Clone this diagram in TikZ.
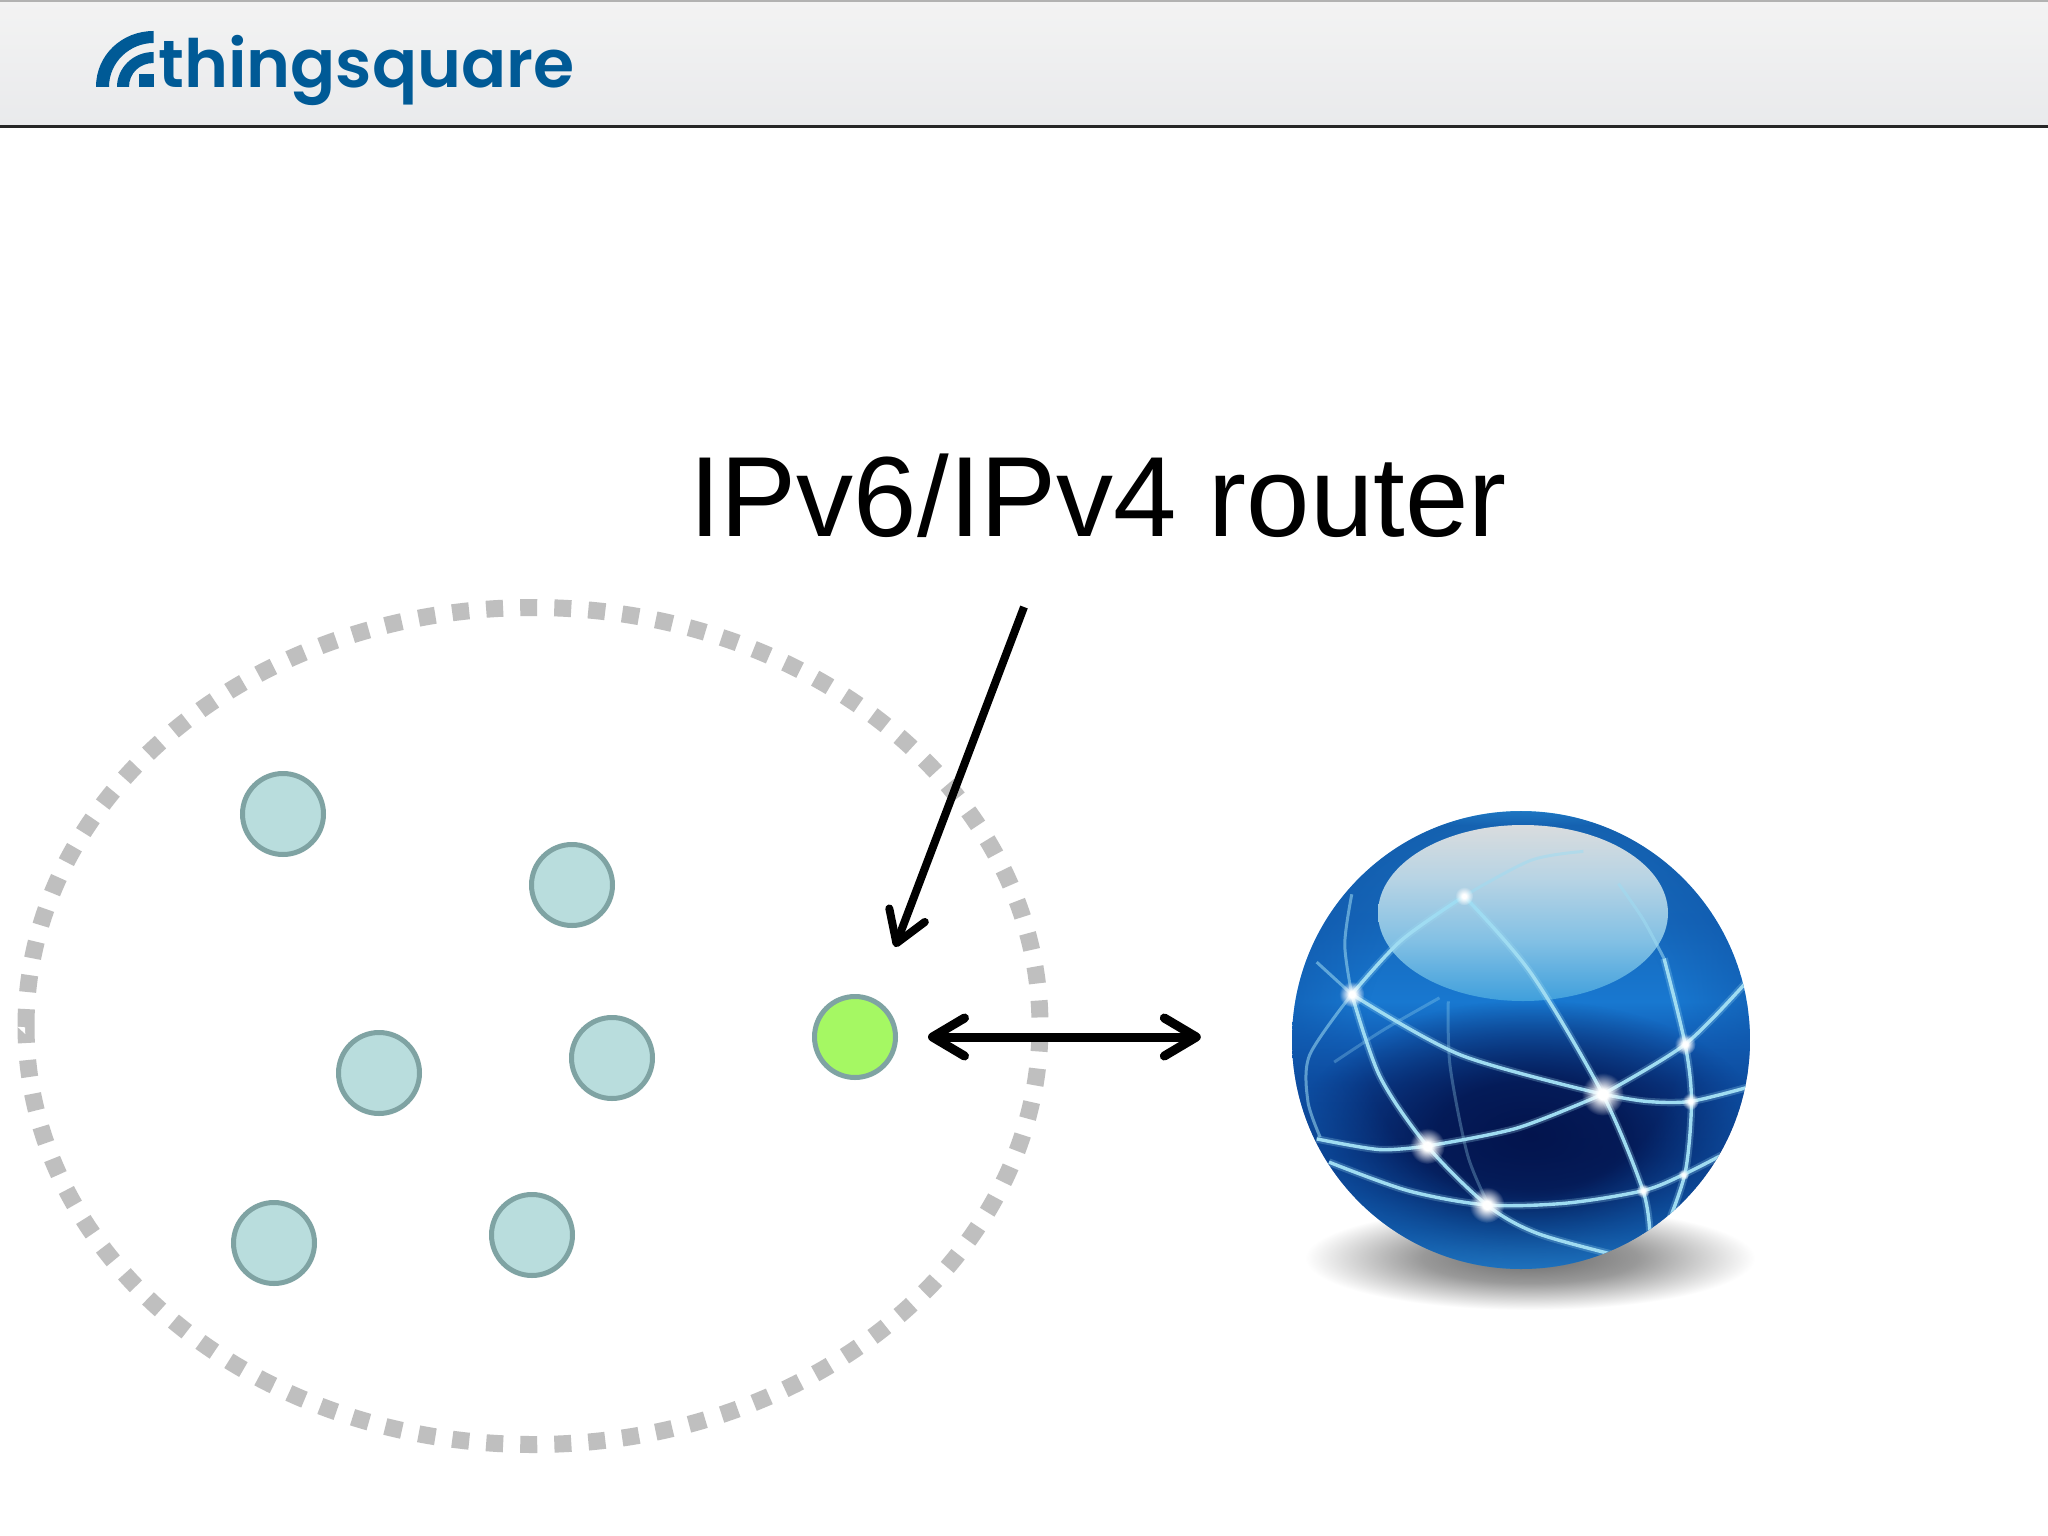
\documentclass[tikz,border=0pt]{standalone}
\usepackage{fontspec}
\setmainfont{Liberation Sans}
\newfontfamily\logofont{Poppins SemiBold}
\usetikzlibrary{arrows.meta,fadings,shapes.geometric}
\definecolor{hdtop}{HTML}{F3F3F3}
\definecolor{hdbot}{HTML}{E9EAEC}
\definecolor{logoblue}{HTML}{005A96}
\definecolor{nodefill}{HTML}{B9DDDD}
\definecolor{nodeline}{HTML}{7FA3A3}
\definecolor{routerfill}{HTML}{A5F863}
\definecolor{ringgrey}{HTML}{BFBFBF}
\definecolor{gA}{HTML}{2E95DA}
\definecolor{gB}{HTML}{1A6DB8}
\definecolor{gC}{HTML}{1668BC}
\definecolor{gD}{HTML}{1878D0}
\definecolor{gE}{HTML}{1260B8}
\definecolor{gF}{HTML}{0C469A}
\definecolor{gG}{HTML}{0A3C8C}
\definecolor{gH}{HTML}{0D4A9A}
\definecolor{gI}{HTML}{1566B4}
\definecolor{gJ}{HTML}{2E90D5}
\definecolor{hlA}{HTML}{D9DCDE}
\definecolor{hlB}{HTML}{B8D4E4}
\definecolor{hlC}{HTML}{82C0E4}
\definecolor{hlD}{HTML}{3F9FDC}
\definecolor{glowline}{HTML}{9FDCF2}
\definecolor{rimblue}{HTML}{0F55A8}
\definecolor{deepnavy}{HTML}{03124A}
\pgfdeclareverticalshading{globeshade}{100bp}{color(0bp)=(gJ); color(25bp)=(gJ); color(29.5bp)=(gI); color(33.45bp)=(gH); color(37.35bp)=(gG); color(45.2bp)=(gF); color(50.3bp)=(gE); color(54.2bp)=(gD); color(62.85bp)=(gC); color(73.45bp)=(gB); color(75bp)=(gA); color(100bp)=(gA)}
\pgfdeclareverticalshading{highlightshade}{100bp}{color(0bp)=(hlD); color(25bp)=(hlD); color(42bp)=(hlC); color(60bp)=(hlB); color(75bp)=(hlA); color(100bp)=(hlA)}
\pgfdeclareverticalshading{headershade}{100bp}{color(0bp)=(hdbot); color(25bp)=(hdbot); color(75bp)=(hdtop); color(100bp)=(hdtop)}
\pgfdeclareradialshading{groundshade}{\pgfpointorigin}{rgb(0bp)=(.42,.42,.42); rgb(12bp)=(.60,.60,.60); rgb(25bp)=(1,1,1); rgb(50bp)=(1,1,1)}
\pgfdeclareradialshading{rimshadefade}{\pgfpointorigin}{rgb(0bp)=(0,0,0); rgb(17bp)=(0,0,0); rgb(25bp)=(1,1,1); rgb(50bp)=(1,1,1)}
\pgfdeclarefading{rimfade}{\pgfuseshading{rimshadefade}}
\pgfdeclareradialshading{bowlshadefade}{\pgfpointorigin}{rgb(0bp)=(1,1,1); rgb(10bp)=(.85,.85,.85); rgb(25bp)=(0,0,0); rgb(50bp)=(0,0,0)}
\pgfdeclarefading{bowlfade}{\pgfuseshading{bowlshadefade}}
\pgfdeclareradialshading{sparkshadefade}{\pgfpointorigin}{rgb(0bp)=(1,1,1); rgb(6bp)=(1,1,1); rgb(25bp)=(0,0,0); rgb(50bp)=(0,0,0)}
\pgfdeclarefading{sparkfade}{\pgfuseshading{sparkshadefade}}
\tikzset{
  sensor/.style={circle,draw=nodeline,fill=nodefill,line width=5pt,minimum size=81pt,inner sep=0pt},
  routernode/.style={sensor,fill=routerfill},
  linkline/.style={line width=9pt,black,{Straight Barb[round,length=32pt,width=38pt]}-{Straight Barb[round,length=32pt,width=38pt]}},
  calloutline/.style={line width=8pt,black,-{Straight Barb[round,length=30pt,width=38pt]}},
  ringline/.style={line width=17pt,draw=ringgrey,dash pattern=on 17pt off 17.09pt},
  meridian/.style={line width=3.4pt,draw=glowline},
  meridianglow/.style={line width=7.5pt,draw=glowline,opacity=.25},
  dimmeridian/.style={line width=3pt,draw=glowline,opacity=.55},
  faintline/.style={line width=3pt,draw=glowline,opacity=.3},
  sparkglow/.style={fill=white,path fading=sparkfade}
}
\newcommand{\globeline}[1]{%
  \draw[meridianglow] plot[smooth] coordinates {#1};
  \draw[meridian] plot[smooth] coordinates {#1};
}
\begin{document}
\begin{tikzpicture}[x=1pt,y=-1pt]
\useasboundingbox (0,0) rectangle (2048,1536);
\fill[white] (0,0) rectangle (2048,1536);
% header
\path[shading=headershade] (0,0) rectangle (2048,126);
\fill[black!30] (0,0) rectangle (2048,2);
\fill[black!85] (0,125) rectangle (2048,128);
% logo
\fill[logoblue] (96,87) .. controls (96,55) and (122,31) .. (153.5,31) -- (153.5,43) .. controls (130,43) and (109,62) .. (109,87) -- cycle;
\fill[logoblue] (117,87) .. controls (117,68) and (133,52) .. (153.5,52) -- (153.5,63) .. controls (140,63) and (129,73) .. (129,87) -- cycle;
\fill[logoblue] (139,74) rectangle (153.5,87);
\node[anchor=base west,inner sep=0pt,text=logoblue,font=\logofont\fontsize{66.6pt}{67pt}\selectfont] (logo) at (158,88) {thingsquare};
% title
\node[anchor=base west,inner sep=0pt,text=black,font=\fontsize{114pt}{114pt}\selectfont] (label) at (689,536) {IPv6/IPv4 router};
% ring: starts at its leftmost point and runs down, round the bottom and back over the top
\draw[ringline] (26,1026) arc [start angle=180,delta angle=-360,x radius=507,y radius=418.5];
\fill[white] (17.3,1026.7) -- (25,1027.3) -- (25.3,1034) -- cycle;
% mesh nodes
\node[sensor] (n1) at (283,814) {};
\node[sensor] (n2) at (572,885) {};
\node[sensor] (n3) at (379,1073) {};
\node[sensor] (n4) at (612,1058) {};
\node[sensor] (n5) at (274,1243) {};
\node[sensor] (n6) at (532,1235) {};
\node[routernode] (router) at (855,1037) {};
% globe
\path[shading=groundshade] (1530,1258) ellipse [x radius=225,y radius=52];
\node[circle,minimum size=456pt,inner sep=0pt] (globe) at (1521,1040) {};
\begin{scope}
\clip (globe.center) ellipse [x radius=229,y radius=229];
\path[shading=globeshade] (1292,811) rectangle (1750,1269);
\fill[deepnavy,opacity=.95,path fading=bowlfade] (1530,1135) ellipse [x radius=235,y radius=135];
\fill[rimblue,opacity=.5,path fading=rimfade] (1521,1040) ellipse [x radius=229,y radius=229];
\path[shading=highlightshade] (1523,913) ellipse [x radius=145,y radius=88];
\begin{scope}[xshift=1250pt,yshift=-780pt,x=0.3509pt,y=-0.3571pt]
\draw[faintline] plot[smooth] coordinates {(565,620) (570,800) (620,1050) (680,1190)};
\draw[faintline] plot[smooth] coordinates {(540,610) (380,700) (240,790)};
\globeline{(290,600) (600,770) (1005,880)}
\globeline{(610,325) (800,540) (1005,880) (1120,1150) (1140,1280)}
\globeline{(290,600) (430,450) (610,325)}
\draw[dimmeridian] plot[smooth] coordinates {(610,325) (800,225) (950,200)};
\globeline{(290,600) (370,830) (505,1025) (675,1190) (820,1270) (1060,1335)}
\globeline{(505,1025) (760,975) (1005,880)}
\globeline{(1005,880) (1240,740) (1420,560)}
\globeline{(1005,880) (1130,900) (1255,900) (1420,860)}
\globeline{(1180,500) (1240,740) (1258,900) (1240,1100) (1180,1270)}
\draw[dimmeridian] plot[smooth] coordinates {(1050,290) (1120,390) (1180,500)};
\globeline{(190,1005) (370,1035) (505,1025)}
\globeline{(225,1070) (450,1150) (675,1190) (900,1185) (1120,1150) (1235,1105) (1345,1050)}
\draw[dimmeridian] plot[smooth] coordinates {(290,600) (170,770) (165,900) (200,1000)};
\draw[dimmeridian] plot[smooth] coordinates {(290,600) (270,460) (290,320)};
\draw[dimmeridian] plot[smooth] coordinates {(290,600) (190,510)};
\foreach \sx/\sy/\sz in {290/600/36,1005/880/60,505/1025/50,675/1190/50,1240/740/30,1255/900/24,610/325/26,1120/1150/20,1235/1105/16}{
  \fill[sparkglow] (\sx,\sy) ellipse [x radius=\sz,y radius=\sz];
}
\end{scope}
\end{scope}
% connectors
\coordinate (calloutstart) at (1024,607);
\coordinate (callouttip) at (895,947);
\draw[calloutline] (calloutstart) -- (callouttip);
\draw[linkline,shorten <=30pt,shorten >=92pt] (router.east) -- (router.east -| globe.west);
\end{tikzpicture}
\end{document}
